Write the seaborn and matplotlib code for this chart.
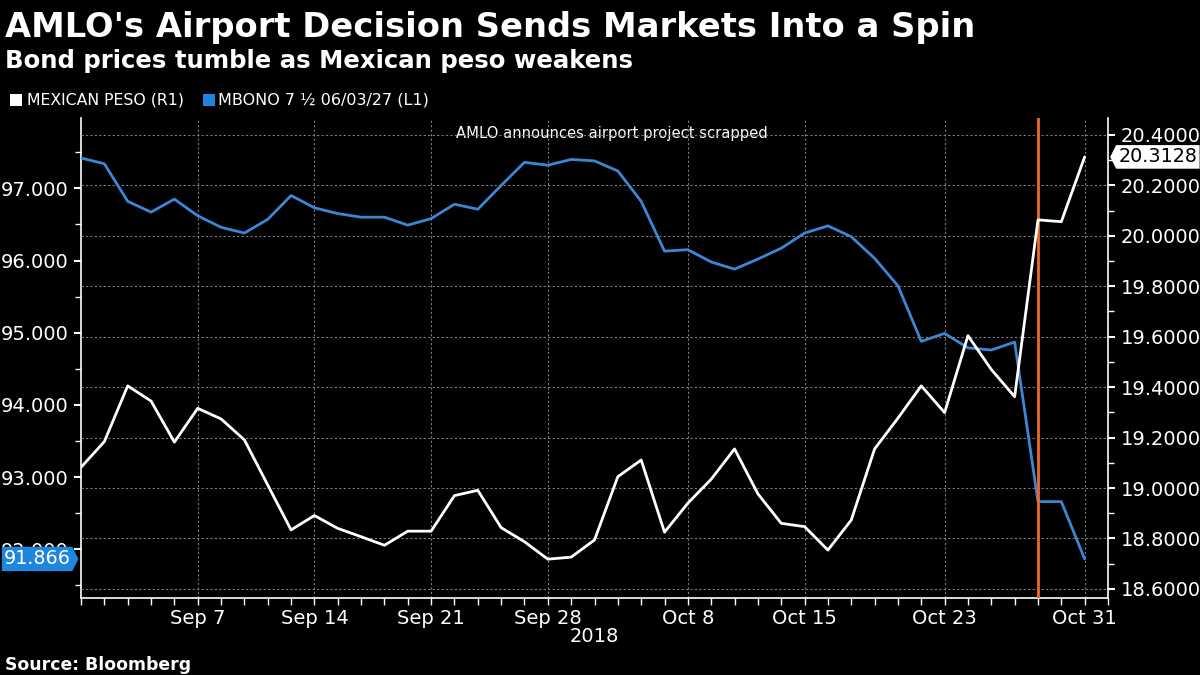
import matplotlib
matplotlib.use("Agg")
import numpy as np
import pandas as pd
import matplotlib.pyplot as plt
import seaborn as sns
from matplotlib.path import Path
from matplotlib.patches import Rectangle

# ---------------- data ----------------
dates = pd.bdate_range("2018-08-31", "2018-10-31")

peso = [19.082, 19.184, 19.405, 19.345, 19.182, 19.316, 19.274, 19.191, 19.012, 18.834,
        18.891, 18.840, 18.807, 18.773, 18.829, 18.829, 18.970, 18.991, 18.843, 18.787,
        18.718, 18.726, 18.794, 19.045, 19.111, 18.825, 18.940, 19.035, 19.155, 18.977,
        18.860, 18.847, 18.754, 18.873, 19.155, 19.277, 19.405, 19.299, 19.604, 19.470,
        19.362, 20.063, 20.056, 20.3128]

mbono = [97.42, 97.34, 96.82, 96.67, 96.85, 96.62, 96.46, 96.38, 96.57, 96.90,
         96.73, 96.65, 96.60, 96.60, 96.49, 96.58, 96.78, 96.71, 97.04, 97.36,
         97.32, 97.40, 97.38, 97.24, 96.82, 96.13, 96.15, 95.98, 95.88, 96.02,
         96.17, 96.38, 96.48, 96.33, 96.03, 95.65, 94.88, 94.99, 94.79, 94.76,
         94.87, 92.66, 92.66, 91.866]

tick_dates = ["2018-09-07", "2018-09-14", "2018-09-21", "2018-09-28",
              "2018-10-08", "2018-10-15", "2018-10-23", "2018-10-31"]
tick_labels = ["Sep 7", "Sep 14", "Sep 21", "Sep 28", "Oct 8", "Oct 15", "Oct 23", "Oct 31"]
left_ticks = [92, 93, 94, 95, 96, 97]
right_ticks = [18.6, 18.8, 19.0, 19.2, 19.4, 19.6, 19.8, 20.0, 20.2, 20.4]
event_date = "2018-10-29"

title = "AMLO's Airport Decision Sends Markets Into a Spin"
subtitle = "Bond prices tumble as Mexican peso weakens"
legend_peso = "MEXICAN PESO (R1)"
legend_mbono = "MBONO 7 \u00bd 06/03/27 (L1)"
annotation = "AMLO announces airport project scrapped"
source = "Source: Bloomberg"

df = pd.DataFrame({"idx": np.arange(len(dates)), "date": dates,
                   "peso": peso, "mbono": mbono})

# ---------------- style ----------------
BLUE = "#3b87d6"
BLUE_LABEL = "#1f86e0"
ORANGE = "#ec6a2a"
GRID = "#7a7a7a"

sns.set_style("dark", rc={"axes.facecolor": "black", "figure.facecolor": "black",
                          "text.color": "white", "axes.labelcolor": "white",
                          "xtick.color": "white", "ytick.color": "white"})
plt.rcParams["font.family"] = ["DejaVu Sans"]

fig = plt.figure(figsize=(12, 6.75), dpi=100, facecolor="black")
W, H = 1200, 675
ax = fig.add_axes([81 / W, 77 / H, 1027 / W, 480 / H])
ax.set_facecolor("black")
ax2 = ax.twinx()

sns.lineplot(data=df, x="idx", y="mbono", ax=ax, color=BLUE, lw=2, zorder=3)
sns.lineplot(data=df, x="idx", y="peso", ax=ax2, color="white", lw=2, zorder=3)

# event line
ev = dates.get_loc(pd.Timestamp(event_date))
ax2.axvline(ev, color=ORANGE, lw=2, zorder=2)

# x axis
n = len(dates)
ax.set_xlim(0, n)
major = [dates.get_loc(pd.Timestamp(d)) for d in tick_dates]
ax.set_xticks(major)
ax.set_xticklabels(tick_labels)
ax.set_xticks(np.arange(n + 1), minor=True)
ax.tick_params(axis="x", which="both", colors="white", length=5, width=1,
               labelsize=14, pad=3, direction="out", bottom=True)

# left y
ax.set_ylim(91.325, 97.974)
ax.set_yticks(left_ticks)
ax.set_yticklabels([f"{v:.3f}" for v in left_ticks])
ax.set_yticks(np.arange(91.5, 98.0, 0.5), minor=True)
ax.tick_params(axis="y", which="major", colors="white", length=5, width=1.5,
               labelsize=14, pad=4, left=True)
ax.tick_params(axis="y", which="minor", colors="white", length=4, width=1, left=True)

# right y
ax2.set_ylim(18.564, 20.467)
ax2.set_yticks(right_ticks)
ax2.set_yticklabels([f"{v:.4f}" for v in right_ticks])
ax2.set_yticks(np.arange(18.6, 20.45, 0.1), minor=True)
ax2.tick_params(axis="y", which="major", colors="white", length=5, width=1.5,
                labelsize=14, pad=4, right=True)
ax2.tick_params(axis="y", which="minor", colors="white", length=4, width=1, right=True)

for a in (ax, ax2):
    a.set_xlabel("")
    a.set_ylabel("")
    for s in a.spines.values():
        s.set_visible(False)
ax.spines["left"].set_visible(True)
ax.spines["bottom"].set_visible(True)
ax2.spines["right"].set_visible(True)
for s in (ax.spines["left"], ax.spines["bottom"], ax2.spines["right"]):
    s.set_color("white")
    s.set_linewidth(1.2)

ax.grid(False)
ax2.grid(False)
ax.grid(axis="x", which="major", color=GRID, ls=(0, (2, 2)), lw=0.8)
ax2.grid(axis="y", which="major", color=GRID, ls=(0, (2, 2)), lw=0.8)
ax2.set_axisbelow(True)


# end-value labels with arrow-shaped boxes
def left_pointer(x0, y0, width, height, mutation_size):
    pad = mutation_size * 0.12
    x0, y0, w, h = x0 - pad, y0 - pad, width + 2 * pad, height + 2 * pad
    tip = h * 0.25
    return Path([(x0, y0), (x0 + w, y0), (x0 + w, y0 + h), (x0, y0 + h),
                 (x0 - tip, y0 + h / 2), (x0, y0)], closed=True)


def right_pointer(x0, y0, width, height, mutation_size):
    padx = mutation_size * 0.09
    pady = mutation_size * 0.14
    x0, y0, w, h = x0 - padx, y0 - pady, width + 2 * padx, height + 2 * pady
    tip = h * 0.25
    return Path([(x0, y0), (x0 + w, y0), (x0 + w + tip, y0 + h / 2),
                 (x0 + w, y0 + h), (x0, y0 + h), (x0, y0)], closed=True)


ax.annotate(f"{mbono[-1]:.3f}", xy=(0, mbono[-1]), xycoords=("axes fraction", "data"),
            xytext=(-7.5, 0), textcoords="offset points", ha="right", va="center",
            color="white", fontsize=13.8, annotation_clip=False, zorder=10,
            bbox=dict(boxstyle=right_pointer, fc=BLUE_LABEL, ec="none"))
ax2.annotate(f"{peso[-1]:.4f}", xy=(1, peso[-1]), xycoords=("axes fraction", "data"),
             xytext=(7.5, 0), textcoords="offset points", ha="left", va="center",
             color="black", fontsize=13.8, annotation_clip=False, zorder=10,
             bbox=dict(boxstyle=left_pointer, fc="white", ec="none"))

# annotation
ax.text(0.517, 0.967, annotation, transform=ax.transAxes, ha="center", va="center",
        color="white", fontsize=10.6)

# titles etc.
fig.text(5 / W, 1 - 37 / H, title, fontsize=24.3, fontweight="bold", color="white",
         va="baseline", ha="left")
fig.text(5 / W, 1 - 68 / H, subtitle, fontsize=17.6, fontweight="bold", color="white",
         va="baseline", ha="left")

fig.add_artist(Rectangle((10 / W, 1 - 106 / H), 12 / W, 12 / H, transform=fig.transFigure,
                         facecolor="white", edgecolor="none"))
fig.text(27 / W, 1 - 100 / H, legend_peso, fontsize=11.3, color="white", va="center")
fig.add_artist(Rectangle((203 / W, 1 - 106 / H), 12 / W, 12 / H, transform=fig.transFigure,
                         facecolor=BLUE_LABEL, edgecolor="none"))
fig.text(218 / W, 1 - 100 / H, legend_mbono, fontsize=11.5, color="white", va="center")

fig.text(594 / W, 1 - 637 / H, "2018", fontsize=14, color="white", ha="center", va="center")
fig.text(5 / W, 1 - 670 / H, source, fontsize=12.4, fontweight="bold", color="white",
         va="baseline", ha="left")

fig.savefig("out.png", dpi=100, facecolor="black")
